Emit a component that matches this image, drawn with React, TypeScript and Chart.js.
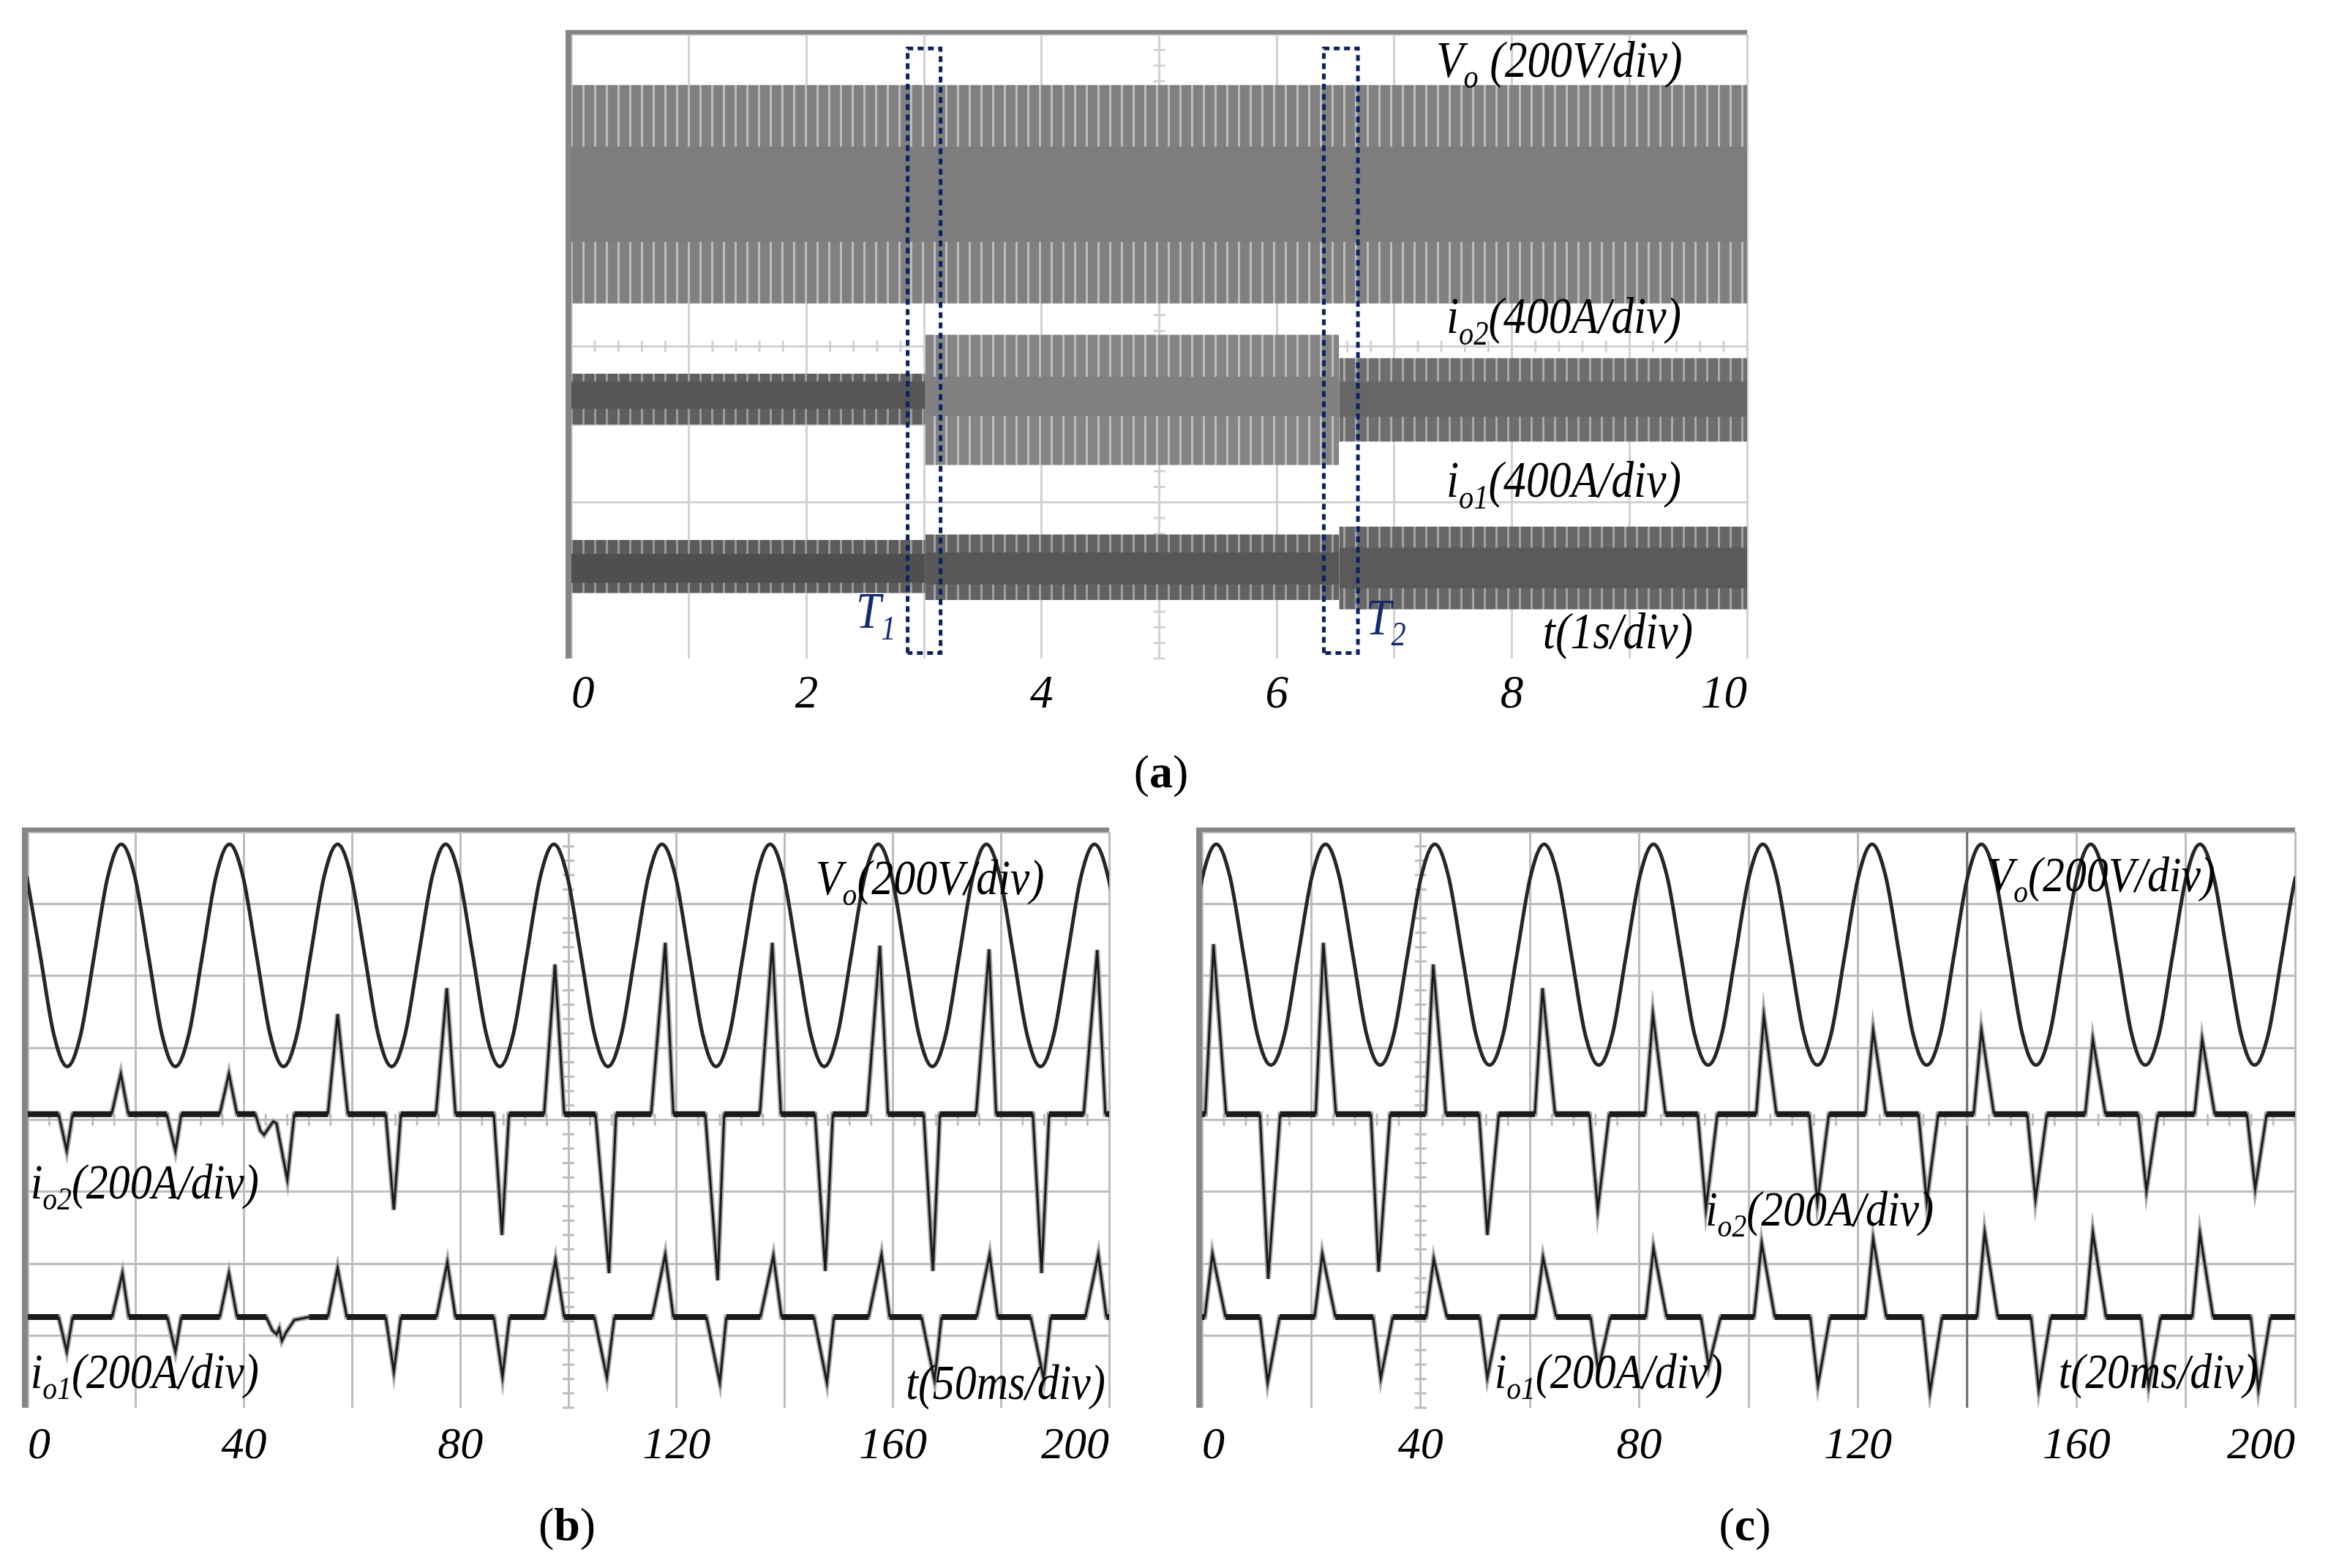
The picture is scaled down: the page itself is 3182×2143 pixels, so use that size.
import React, { useEffect, useRef } from 'react';
import { Chart, registerables } from 'chart.js';

Chart.register(...registerables);

const SERIF = '"Liberation Serif", "Times New Roman", serif';

// ---------------- (a) 10 s record, 1 s/div, 8 vertical divisions ----------------
const aXLabels = [0, 2, 4, 6, 8, 10];
const aSegments = [0, 3.01, 6.53, 10]; // load steps at T1 and T2
const aVoOuter = [7.35, 4.55];
const aVoCore = [6.56, 5.34];
const aIo2Outer = [[3.65, 3.0], [4.15, 2.48], [3.85, 2.78]];
const aIo2Core = [[3.55, 3.2], [3.61, 3.11], [3.55, 3.1]];
const aIo1Outer = [[1.52, 0.84], [1.59, 0.75], [1.69, 0.63]];
const aIo1Core = [[1.34, 0.97], [1.36, 0.95], [1.42, 0.9]];
const aBoxT1 = [2.86, 3.14];
const aBoxT2 = [6.4, 6.69];
const aBoxV = [0.07, 7.82];

// ---------------- (b) and (c): 0..200, 20 per div ----------------
const bcXLabels = [0, 40, 80, 120, 160, 200];

const voBT = [
  -0.2, 2.3, 4.8, 7.3, 9.8, 12.3, 14.8, 17.3,
  19.8, 22.3, 24.8, 27.3, 29.8, 32.3, 34.8, 37.3,
  39.8, 42.3, 44.8, 47.3, 49.8, 52.3, 54.8, 57.3,
  59.8, 62.3, 64.8, 67.3, 69.8, 72.3, 74.8, 77.3,
  79.8, 82.3, 84.8, 87.3, 89.8, 92.3, 94.8, 97.3,
  99.8, 102.3, 104.8, 107.3, 109.8, 112.3, 114.8, 117.3,
  119.8, 122.3, 124.8, 127.3, 129.8, 132.3, 134.8, 137.3,
  139.8, 142.3, 144.8, 147.3, 149.8, 152.3, 154.8, 157.3,
  159.8, 162.3, 164.8, 167.3, 169.8, 172.3, 174.8, 177.3,
  179.8, 182.3, 184.8, 187.3, 189.8, 192.3, 194.8, 197.3,
  199.8, 202.3,
];
const voBV = [
  7.38, 6.29, 5.19, 4.74, 5.19, 6.29, 7.38, 7.83,
  7.38, 6.29, 5.19, 4.74, 5.19, 6.29, 7.38, 7.83,
  7.38, 6.29, 5.19, 4.74, 5.19, 6.29, 7.38, 7.83,
  7.38, 6.29, 5.19, 4.74, 5.19, 6.29, 7.38, 7.83,
  7.38, 6.29, 5.19, 4.74, 5.19, 6.29, 7.38, 7.83,
  7.38, 6.29, 5.19, 4.74, 5.19, 6.29, 7.38, 7.83,
  7.38, 6.29, 5.19, 4.74, 5.19, 6.29, 7.38, 7.83,
  7.38, 6.29, 5.19, 4.74, 5.19, 6.29, 7.38, 7.83,
  7.38, 6.29, 5.19, 4.74, 5.19, 6.29, 7.38, 7.83,
  7.38, 6.29, 5.19, 4.74, 5.19, 6.29, 7.38, 7.83,
  7.38, 6.29,
];

const voCT = [
  -2.4, 0.1, 2.6, 5.1, 7.6, 10.1, 12.6, 15.1,
  17.6, 20.1, 22.6, 25.1, 27.6, 30.1, 32.6, 35.1,
  37.6, 40.1, 42.6, 45.1, 47.6, 50.1, 52.6, 55.1,
  57.6, 60.1, 62.6, 65.1, 67.6, 70.1, 72.6, 75.1,
  77.6, 80.1, 82.6, 85.1, 87.6, 90.1, 92.6, 95.1,
  97.6, 100.1, 102.6, 105.1, 107.6, 110.1, 112.6, 115.1,
  117.6, 120.1, 122.6, 125.1, 127.6, 130.1, 132.6, 135.1,
  137.6, 140.1, 142.6, 145.1, 147.6, 150.1, 152.6, 155.1,
  157.6, 160.1, 162.6, 165.1, 167.6, 170.1, 172.6, 175.1,
  177.6, 180.1, 182.6, 185.1, 187.6, 190.1, 192.6, 195.1,
  197.6, 200.1, 202.6,
];
const voCV = [
  6.29, 7.38, 7.83, 7.38, 6.29, 5.19, 4.76, 5.19,
  6.29, 7.38, 7.83, 7.38, 6.29, 5.19, 4.76, 5.19,
  6.29, 7.38, 7.83, 7.38, 6.29, 5.19, 4.76, 5.19,
  6.29, 7.38, 7.83, 7.38, 6.29, 5.19, 4.76, 5.19,
  6.29, 7.38, 7.83, 7.38, 6.29, 5.19, 4.76, 5.19,
  6.29, 7.38, 7.83, 7.38, 6.29, 5.19, 4.76, 5.19,
  6.29, 7.38, 7.83, 7.38, 6.29, 5.19, 4.76, 5.19,
  6.29, 7.38, 7.83, 7.38, 6.29, 5.19, 4.76, 5.19,
  6.29, 7.38, 7.83, 7.38, 6.29, 5.19, 4.76, 5.19,
  6.29, 7.38, 7.83, 7.38, 6.29, 5.19, 4.76, 5.19,
  6.29, 7.38, 7.83,
];

const io2B = [
  [0, 4.08],
  [5.7, 4.08], [7.2, 3.57], [8.3, 4.08],
  [15.5, 4.08], [17.2, 4.64], [18.6, 4.08],
  [25.7, 4.08], [27.3, 3.57], [28.4, 4.08],
  [35.5, 4.08], [37.2, 4.64], [38.7, 4.08],
  [42.1, 4.08], [43.0, 3.85], [43.7, 3.79], [44.5, 3.88], [45.4, 3.98], [46.0, 3.95], [48.0, 3.17], [49.3, 4.08],
  [55.5, 4.08], [57.3, 5.47], [59.2, 4.08],
  [66.2, 4.08], [67.7, 2.75], [69.0, 4.08],
  [75.5, 4.08], [77.5, 5.83], [79.1, 4.08],
  [86.2, 4.08], [87.7, 2.4], [89.0, 4.08],
  [95.5, 4.08], [97.5, 6.16], [99.2, 4.08],
  [105.0, 4.08], [107.5, 1.87], [108.8, 4.08],
  [115.3, 4.08], [117.9, 6.46], [119.4, 4.08],
  [125.3, 4.08], [127.6, 1.77], [128.8, 4.08],
  [135.4, 4.08], [137.7, 6.46], [139.3, 4.08],
  [145.6, 4.08], [147.5, 1.9], [148.9, 4.08],
  [155.2, 4.08], [157.6, 6.42], [159.1, 4.08],
  [165.7, 4.08], [167.4, 1.9], [168.7, 4.08],
  [175.4, 4.08], [177.8, 6.37], [179.1, 4.08],
  [185.9, 4.08], [187.5, 1.87], [188.9, 4.08],
  [195.3, 4.08], [197.8, 6.36], [199.3, 4.08],
  [200, 4.08],
];

const io1B = [
  [0, 1.26],
  [5.7, 1.26], [7.2, 0.78], [8.3, 1.26],
  [15.6, 1.26], [17.5, 1.87], [18.7, 1.26],
  [25.8, 1.26], [27.3, 0.78], [28.4, 1.26],
  [35.5, 1.26], [37.2, 1.87], [38.7, 1.26],
  [44.1, 1.26], [45.2, 1.08], [46.0, 1.02], [46.5, 1.1], [47.0, 0.93], [47.8, 1.05], [49.3, 1.22], [52.0, 1.26],
  [55.5, 1.26], [57.3, 1.94], [59.0, 1.26],
  [66.2, 1.26], [67.7, 0.5], [69.0, 1.26],
  [75.6, 1.26], [77.6, 2.02], [79.1, 1.26],
  [86.2, 1.26], [87.8, 0.43], [89.1, 1.26],
  [95.6, 1.26], [97.6, 2.05], [99.2, 1.26],
  [104.8, 1.26], [107.1, 0.42], [108.5, 1.26],
  [115.5, 1.26], [117.9, 2.13], [119.4, 1.26],
  [125.5, 1.26], [128.0, 0.35], [129.2, 1.26],
  [135.5, 1.26], [137.9, 2.11], [139.4, 1.26],
  [145.4, 1.26], [147.8, 0.35], [149.1, 1.26],
  [155.5, 1.26], [157.9, 2.13], [159.4, 1.26],
  [165.3, 1.26], [167.7, 0.38], [169.0, 1.26],
  [175.5, 1.26], [177.9, 2.13], [179.4, 1.26],
  [185.5, 1.26], [187.9, 0.4], [189.2, 1.26],
  [195.6, 1.26], [198.0, 2.13], [199.5, 1.26],
  [200, 1.26],
];

const io2C = [
  [0, 4.08],
  [0.6, 4.08], [2.1, 6.44], [4.4, 4.08],
  [10.6, 4.08], [12.1, 1.79], [14.3, 4.08],
  [20.8, 4.08], [22.2, 6.46], [24.5, 4.08],
  [30.9, 4.08], [32.3, 1.89], [34.4, 4.08],
  [40.9, 4.08], [42.3, 6.16], [44.6, 4.08],
  [50.7, 4.08], [52.2, 2.4], [54.3, 4.08],
  [60.9, 4.08], [62.3, 5.83], [64.6, 4.08],
  [70.9, 4.08], [72.4, 2.75], [74.5, 4.08],
  [81.1, 4.08], [82.5, 5.47], [84.8, 4.08],
  [90.7, 4.08], [92.2, 2.76], [94.3, 4.08],
  [101.4, 4.08], [102.8, 5.45], [105.1, 4.08],
  [111.1, 4.08], [112.6, 2.85], [114.7, 4.08],
  [121.4, 4.08], [122.8, 5.25], [125.1, 4.08],
  [131.1, 4.08], [132.6, 2.86], [134.7, 4.08],
  [141.2, 4.08], [142.6, 5.25], [144.9, 4.08],
  [151.0, 4.08], [152.5, 2.89], [154.6, 4.08],
  [161.6, 4.08], [163.0, 5.12], [165.3, 4.08],
  [171.3, 4.08], [172.8, 3.01], [174.9, 4.08],
  [181.6, 4.08], [183.0, 5.12], [185.3, 4.08],
  [191.2, 4.08], [192.7, 3.04], [194.8, 4.08],
  [200, 4.08],
];

const io1C = [
  [0, 1.26],
  [0.5, 1.26], [1.9, 2.14], [4.3, 1.26],
  [10.6, 1.26], [12.0, 0.35], [14.2, 1.26],
  [20.6, 1.26], [22.0, 2.14], [24.4, 1.26],
  [31.3, 1.26], [32.7, 0.41], [34.9, 1.26],
  [41.0, 1.26], [42.4, 2.07], [44.8, 1.26],
  [50.8, 1.26], [52.2, 0.42], [54.4, 1.26],
  [61.0, 1.26], [62.4, 2.09], [64.8, 1.26],
  [71.1, 1.26], [72.5, 0.52], [74.7, 1.26],
  [81.2, 1.26], [82.6, 2.22], [85.0, 1.26],
  [91.3, 1.26], [92.7, 0.58], [94.9, 1.26],
  [101.0, 1.26], [102.4, 2.29], [104.8, 1.26],
  [111.3, 1.26], [112.7, 0.32], [114.9, 1.26],
  [121.4, 1.26], [122.8, 2.35], [125.2, 1.26],
  [131.8, 1.26], [133.2, 0.22], [135.4, 1.26],
  [141.8, 1.26], [143.2, 2.44], [145.6, 1.26],
  [151.7, 1.26], [153.1, 0.25], [155.3, 1.26],
  [161.6, 1.26], [163.0, 2.44], [165.4, 1.26],
  [171.8, 1.26], [173.2, 0.3], [175.4, 1.26],
  [181.2, 1.26], [182.6, 2.42], [185.0, 1.26],
  [191.9, 1.26], [193.3, 0.25], [195.5, 1.26],
  [200, 1.26],
];

// ---------------- helpers ----------------
type Part = { t: string; sub?: boolean };
type Label = { parts: Part[]; x: number; y: number; align: 'left' | 'right'; size: number; color?: string };
interface Deco {
  centerX: number; centerY: number; minorX: number; minorY: number;
  darkX?: number; grid: string; labels: Label[];
}

const CONDENSE = 0.88;

function drawLabel(ctx: CanvasRenderingContext2D, l: Label, px: number, py: number) {
  const main = `italic ${l.size}px ${SERIF}`;
  const sub = `italic ${Math.round(l.size * 0.66)}px ${SERIF}`;
  let w = 0;
  const widths = l.parts.map((p) => {
    ctx.font = p.sub ? sub : main;
    const m = ctx.measureText(p.t).width;
    w += m;
    return m;
  });
  ctx.save();
  ctx.translate(px, py);
  ctx.scale(CONDENSE, 1);
  let cx = l.align === 'right' ? -w : 0;
  ctx.fillStyle = l.color || '#000';
  ctx.textBaseline = 'alphabetic';
  ctx.textAlign = 'left';
  l.parts.forEach((p, i) => {
    ctx.font = p.sub ? sub : main;
    ctx.fillText(p.t, cx, p.sub ? l.size * 0.22 : 0);
    cx += widths[i];
  });
  ctx.restore();
}

function decoPlugin(d: Deco) {
  return {
    id: 'scopeDeco',
    beforeDatasetsDraw(chart: any) {
      const { ctx, chartArea: ca, scales } = chart;
      const x = scales.x;
      const y = scales.y;
      ctx.save();
      if (d.darkX !== undefined) {
        const px = x.getPixelForValue(d.darkX);
        ctx.strokeStyle = '#6e6e6e';
        ctx.lineWidth = 3;
        ctx.beginPath();
        ctx.moveTo(px, ca.top);
        ctx.lineTo(px, ca.bottom);
        ctx.stroke();
      }
      ctx.strokeStyle = d.grid;
      ctx.lineWidth = 3;
      const cx = x.getPixelForValue(d.centerX);
      const cy = y.getPixelForValue(d.centerY);
      ctx.beginPath();
      for (let v = x.min; v <= x.max + 1e-9; v += d.minorX) {
        const px = x.getPixelForValue(v);
        ctx.moveTo(px, cy - 8);
        ctx.lineTo(px, cy + 8);
      }
      for (let v = y.min; v <= y.max + 1e-9; v += d.minorY) {
        const py = y.getPixelForValue(v);
        ctx.moveTo(cx - 8, py);
        ctx.lineTo(cx + 8, py);
      }
      ctx.stroke();
      ctx.restore();
    },
    afterDatasetsDraw(chart: any) {
      const { ctx, chartArea: ca, scales } = chart;
      ctx.save();
      ctx.fillStyle = '#858585';
      ctx.fillRect(ca.left - 8, ca.top - 6, ca.right - ca.left + 8, 6);
      ctx.fillRect(ca.left - 8, ca.top - 6, 8, ca.bottom - ca.top + 6);
      for (const l of d.labels) {
        drawLabel(ctx, l, scales.x.getPixelForValue(l.x), scales.y.getPixelForValue(l.y));
      }
      ctx.restore();
    },
  };
}

function stripes(base: string, light: string) {
  const c = document.createElement('canvas');
  c.width = 16;
  c.height = 4;
  const g = c.getContext('2d')!;
  g.fillStyle = base;
  g.fillRect(0, 0, 16, 4);
  g.fillStyle = light;
  g.fillRect(0, 0, 3, 4);
  return g.createPattern(c, 'repeat')!;
}

const pairs = (arr: number[][]) => arr.map(([x, y]) => ({ x, y }));
const zipTV = (T: number[], V: number[]) => T.map((t, i) => ({ x: t, y: V[i] }));
const NONE = 'rgba(0,0,0,0)';

function buildA(): any[] {
  const ds: any[] = [];
  const band = (t0: number, t1: number, hi: number, lo: number, fillStyle: any, order: number) => {
    ds.push({ data: [{ x: t0, y: hi }, { x: t1, y: hi }], borderColor: NONE, borderWidth: 1, pointRadius: 0, fill: false, order });
    ds.push({ data: [{ x: t0, y: lo }, { x: t1, y: lo }], borderColor: NONE, borderWidth: 1, pointRadius: 0, fill: '-1', backgroundColor: fillStyle, order });
  };
  const t0 = aSegments[0];
  const tEnd = aSegments[aSegments.length - 1];
  band(t0, tEnd, aVoOuter[0], aVoOuter[1], stripes('#808080', '#bdbdbd'), 3);
  band(t0, tEnd, aVoCore[0], aVoCore[1], '#7d7d7d', 2);
  const io2Cols = [['#5f5f5f', '#9c9c9c', '#565656'], ['#848484', '#bebebe', '#808080'], ['#6e6e6e', '#aaaaaa', '#666666']];
  const io1Cols = [['#5c5c5c', '#9a9a9a', '#4f4f4f'], ['#626262', '#a0a0a0', '#575757'], ['#666666', '#a4a4a4', '#5a5a5a']];
  for (let s = 0; s < 3; s++) {
    const a = aSegments[s];
    const b = aSegments[s + 1];
    band(a, b, aIo2Outer[s][0], aIo2Outer[s][1], stripes(io2Cols[s][0], io2Cols[s][1]), 3);
    band(a, b, aIo2Core[s][0], aIo2Core[s][1], io2Cols[s][2], 2);
    band(a, b, aIo1Outer[s][0], aIo1Outer[s][1], stripes(io1Cols[s][0], io1Cols[s][1]), 3);
    band(a, b, aIo1Core[s][0], aIo1Core[s][1], io1Cols[s][2], 2);
  }
  for (const bx of [aBoxT1, aBoxT2]) {
    ds.push({
      data: [
        { x: bx[0], y: aBoxV[0] }, { x: bx[0], y: aBoxV[1] }, { x: bx[1], y: aBoxV[1] },
        { x: bx[1], y: aBoxV[0] }, { x: bx[0], y: aBoxV[0] },
      ],
      borderColor: '#0d2166', borderWidth: 5, borderDash: [8, 6], pointRadius: 0, fill: false, order: 0,
    });
  }
  return ds;
}

function scopeTraces(voT: number[], voV: number[], io2: number[][], io1: number[][]): any[] {
  const flat = (ctx: any) => (Math.abs(ctx.p0.parsed.y - ctx.p1.parsed.y) < 1e-6 ? 8 : 3);
  const mk = (data: any[], color: string, width: number, order: number, extra: any = {}) => ({
    data, borderColor: color, borderWidth: width, pointRadius: 0, fill: false, order, ...extra,
  });
  return [
    mk(zipTV(voT, voV), '#262626', 5, 0, { cubicInterpolationMode: 'monotone' }),
    mk(pairs(io2), '#1a1a1a', 3, 1, { segment: { borderWidth: flat } }),
    mk(pairs(io1), '#1a1a1a', 3, 1, { segment: { borderWidth: flat } }),
    mk(pairs(io2), '#a8a8a8', 7, 2),
    mk(pairs(io1), '#a8a8a8', 7, 2),
  ];
}

interface ScopeProps {
  left: number; top: number; width: number; height: number;
  padding: { left: number; right: number; top: number; bottom: number };
  xMax: number; xStep: number; xLabels: number[]; tickSize: number; tickPad: number; xAxisH: number;
  grid: string; build: () => any[]; deco: Deco;
}

function ScopeChart(p: ScopeProps) {
  const ref = useRef<HTMLCanvasElement>(null);
  useEffect(() => {
    const canvas = ref.current!;
    const chart = new Chart(canvas, {
      type: 'line',
      data: { datasets: p.build() },
      options: {
        responsive: false,
        animation: false,
        devicePixelRatio: 1,
        layout: { padding: p.padding },
        plugins: { legend: { display: false }, tooltip: { enabled: false }, title: { display: false } },
        elements: { point: { radius: 0 }, line: { tension: 0 } },
        scales: {
          x: {
            type: 'linear', min: 0, max: p.xMax,
            border: { display: false },
            grid: { color: p.grid, lineWidth: 3, drawTicks: false },
            ticks: {
              stepSize: p.xStep, autoSkip: false, maxRotation: 0, minRotation: 0, maxTicksLimit: 100,
              align: 'inner', padding: p.tickPad, color: '#000',
              font: { family: SERIF, size: p.tickSize, style: 'italic' },
              callback: (v: any) => {
                const r = Math.round(Number(v) * 1000) / 1000;
                return p.xLabels.includes(r) ? String(r) : '';
              },
            },
            afterFit: (s: any) => { s.height = p.xAxisH; },
          },
          y: {
            type: 'linear', min: 0, max: 8,
            border: { display: false },
            grid: {
              color: (c: any) => (c.tick && c.tick.value === 0 ? NONE : p.grid),
              lineWidth: 3, drawTicks: false,
            },
            ticks: { display: false, stepSize: 1, maxTicksLimit: 100 },
            afterFit: (s: any) => { s.width = 0; },
          },
        },
      } as any,
      plugins: [decoPlugin(p.deco)],
    });
    return () => chart.destroy();
  }, []);
  return (
    <canvas
      ref={ref}
      width={p.width}
      height={p.height}
      style={{ position: 'absolute', left: p.left, top: p.top, width: p.width, height: p.height }}
    />
  );
}

const lbl = (parts: Part[], x: number, y: number, align: 'left' | 'right', size: number, color?: string): Label => ({
  parts, x, y, align, size, color,
});

const decoA: Deco = {
  centerX: 5, centerY: 4, minorX: 0.2, minorY: 0.2, grid: '#d2d2d2',
  labels: [
    lbl([{ t: 'V' }, { t: 'o', sub: true }, { t: ' (200V/div)' }], 9.45, 7.46, 'right', 70),
    lbl([{ t: 'i' }, { t: 'o2', sub: true }, { t: '(400A/div)' }], 9.44, 4.17, 'right', 70),
    lbl([{ t: 'i' }, { t: 'o1', sub: true }, { t: '(400A/div)' }], 9.44, 2.07, 'right', 70),
    lbl([{ t: 't(1s/div)' }], 9.54, 0.13, 'right', 70),
    lbl([{ t: 'T' }, { t: '1', sub: true }], 2.42, 0.39, 'left', 70, '#142a70'),
    lbl([{ t: 'T' }, { t: '2', sub: true }], 6.76, 0.31, 'left', 70, '#142a70'),
  ],
};

const decoB: Deco = {
  centerX: 100, centerY: 4, minorX: 4, minorY: 0.2, grid: '#bdbdbd',
  labels: [
    lbl([{ t: 'V' }, { t: 'o', sub: true }, { t: '(200V/div)' }], 188, 7.14, 'right', 68),
    lbl([{ t: 'i' }, { t: 'o2', sub: true }, { t: '(200A/div)' }], 0.5, 2.91, 'left', 68),
    lbl([{ t: 'i' }, { t: 'o1', sub: true }, { t: '(200A/div)' }], 0.5, 0.27, 'left', 68),
    lbl([{ t: 't(50ms/div)' }], 199.3, 0.12, 'right', 68),
  ],
};

const decoC: Deco = {
  centerX: 40, centerY: 4, minorX: 4, minorY: 0.2, darkX: 140, grid: '#bdbdbd',
  labels: [
    lbl([{ t: 'V' }, { t: 'o', sub: true }, { t: '(200V/div)' }], 185.4, 7.18, 'right', 68),
    lbl([{ t: 'i' }, { t: 'o2', sub: true }, { t: '(200A/div)' }], 92.1, 2.53, 'left', 68),
    lbl([{ t: 'i' }, { t: 'o1', sub: true }, { t: '(200A/div)' }], 53.5, 0.27, 'left', 68),
    lbl([{ t: 't(20ms/div)' }], 193.2, 0.27, 'right', 68),
  ],
};

function Caption({ x, y, letter }: { x: number; y: number; letter: string }) {
  return (
    <div
      style={{
        position: 'absolute', left: x, top: y, transform: 'translate(-50%, -50%)',
        fontFamily: SERIF, fontSize: 64, lineHeight: 1, color: '#000', whiteSpace: 'nowrap',
      }}
    >
      (<b>{letter}</b>)
    </div>
  );
}

export default function App() {
  return (
    <div style={{ position: 'fixed', left: 0, top: 0, width: 3182, height: 2143, background: '#fff', overflow: 'hidden' }}>
      <ScopeChart
        left={700} top={0} width={1760} height={1010}
        padding={{ left: 81, right: 72, top: 47, bottom: 0 }}
        xMax={10} xStep={1} xLabels={aXLabels} tickSize={63} tickPad={13} xAxisH={110}
        grid="#d2d2d2" build={buildA} deco={decoA}
      />
      <ScopeChart
        left={0} top={1080} width={1600} height={960}
        padding={{ left: 38, right: 84, top: 57, bottom: 0 }}
        xMax={200} xStep={20} xLabels={bcXLabels} tickSize={62} tickPad={16} xAxisH={116}
        grid="#bdbdbd" build={() => scopeTraces(voBT, voBV, io2B, io1B)} deco={decoB}
      />
      <ScopeChart
        left={1580} top={1080} width={1602} height={960}
        padding={{ left: 63, right: 45, top: 57, bottom: 0 }}
        xMax={200} xStep={20} xLabels={bcXLabels} tickSize={62} tickPad={16} xAxisH={116}
        grid="#bdbdbd" build={() => scopeTraces(voCT, voCV, io2C, io1C)} deco={decoC}
      />
      <Caption x={1587} y={1055} letter="a" />
      <Caption x={775} y={2084} letter="b" />
      <Caption x={2385} y={2084} letter="c" />
    </div>
  );
}
